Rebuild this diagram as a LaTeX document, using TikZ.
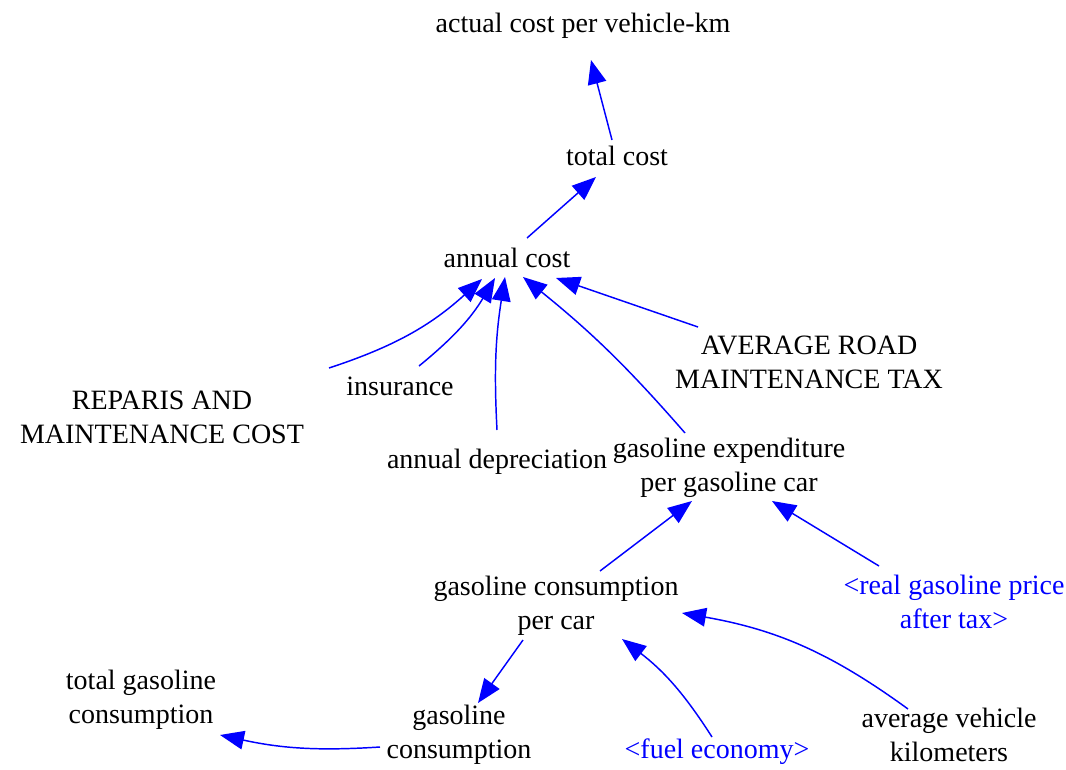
\documentclass[tikz,border=0pt]{standalone}
\usepackage{fontspec}
\setmainfont{Liberation Serif}
\usetikzlibrary{arrows.meta,positioning}

\begin{document}
\begin{tikzpicture}[x=0.75pt,y=0.75pt,
  var/.style={align=center,inner sep=0pt,font=\fontsize{21}{25.5}\selectfont},
  shadow/.style={var,text=blue},
  link/.style={blue,line width=1.1pt,-{Triangle[length=18pt,width=14pt]}}]

\useasboundingbox (0,0) rectangle (1066,769);

\node[var] (actual) at (583,743) {actual cost per vehicle-km};
\node[var] (total) at (617,613) {total cost};
\node[var] (annual) at (507,511) {annual cost};
\node[var] (roadtax) at (809,407) {AVERAGE ROAD\\MAINTENANCE TAX};
\node[var] (repairs) at (162,352) {REPARIS AND\\MAINTENANCE COST};
\node[var] (insurance) at (400,383) {insurance};
\node[var] (depreciation) at (497,307) {annual depreciation};
\node[var] (gasexp) at (729,301) {gasoline expenditure\\per gasoline car};
\node[var] (gaspercar) at (556,163) {gasoline consumption\\per car};
\node[shadow] (price) at (954,167) {<real gasoline price\\after tax>};
\node[var] (totalgas) at (141,69) {total gasoline\\consumption};
\node[var] (gascons) at (459,34) {gasoline\\consumption};
\node[shadow] (fuel) at (717,17) {<fuel economy>};
\node[var] (vkm) at (949,34) {average vehicle\\kilometers};

%top of the chain
\draw[link] ([shift={(-5,16)}]total.center) -- ([shift={(8,-34)}]actual.center);
\draw[link] ([shift={(20,20)}]annual.center) -- ([shift={(-21,-21)}]total.center);

%inputs of annual cost
\draw[link] ([shift={(167,49)}]repairs.center) to[bend right=12] ([shift={(-25,-21)}]annual.center);
\draw[link] ([shift={(19,20)}]insurance.center) to[bend right=10] ([shift={(-12,-20)}]annual.center);
\draw[link] ([shift={(0,32)}]depreciation.center) to[bend left=6] ([shift={(-2,-19)}]annual.center);
\draw[link] ([shift={(-44,35)}]gasexp.center) to[bend right=5] ([shift={(16,-19)}]annual.center);
\draw[link] ([shift={(-111,35)}]roadtax.center) -- ([shift={(49,-20)}]annual.center);

%gasoline part
\draw[link] ([shift={(44,35)}]gaspercar.center) -- ([shift={(-37,-33)}]gasexp.center);
\draw[link] ([shift={(-75,36)}]price.center) -- ([shift={(43,-33)}]gasexp.center);
\draw[link] ([shift={(-41,26)}]vkm.center) to[bend right=13] ([shift={(126,-7)}]gaspercar.center);
\draw[link] ([shift={(-5,15)}]fuel.center) to[bend right=10] ([shift={(66,-33)}]gaspercar.center);
\draw[link] ([shift={(-33,-34)}]gaspercar.center) -- ([shift={(19,32)}]gascons.center);
\draw[link] ([shift={(-79,-12)}]gascons.center) to[bend left=8] ([shift={(79,-35)}]totalgas.center);

\end{tikzpicture}
\end{document}
